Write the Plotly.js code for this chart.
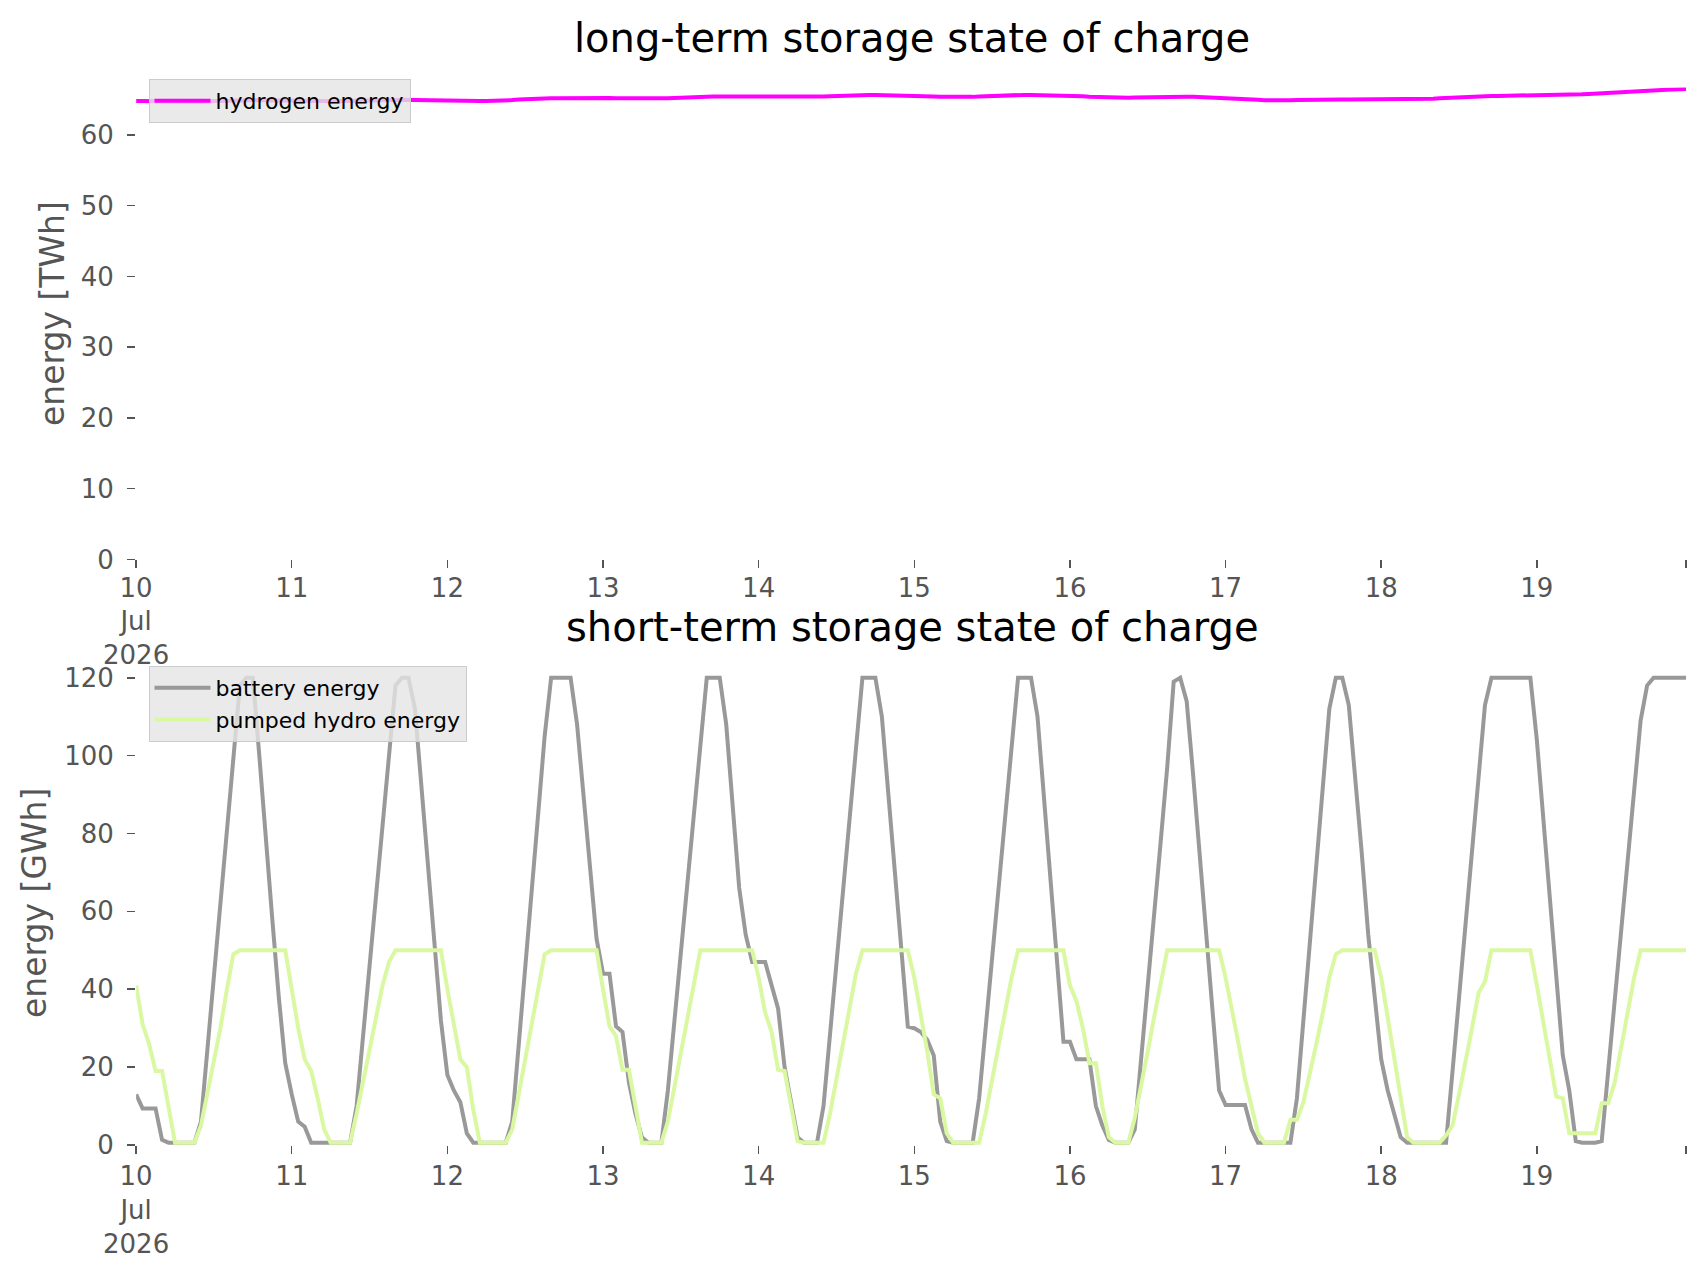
<!DOCTYPE html>
<html>
<head>
<meta charset="utf-8">
<script src="https://cdn.plot.ly/plotly-3.0.1.min.js"></script>
<style>
  html, body { margin: 0; padding: 0; background: #ffffff; }
  #storage-soc { width: 1706px; height: 1277px; }
</style>
</head>
<body>
<div id="storage-soc"></div>
<script type="text/javascript">

    /* * Data, one row per day (hourly values, 10 Jul - 19 Jul 2026) * */

    /* * long-term storage [TWh] * */
    var hydrogen_energy = [
        64.80, 64.78, 64.76, 64.74, 64.72, 64.70, 64.68, 64.66, 64.67, 64.70, 64.74, 64.78, 64.82, 64.85, 64.88, 64.90, 64.91, 64.92, 64.92, 64.90, 64.88, 64.86, 64.84, 64.82,
        64.81, 64.80, 64.79, 64.79, 64.78, 64.78, 64.78, 64.78, 64.80, 64.83, 64.86, 64.89, 64.92, 64.94, 64.96, 64.97, 64.98, 64.98, 64.97, 64.95, 64.92, 64.89, 64.86, 64.83,
        64.81, 64.80, 64.80, 64.79, 64.79, 64.79, 64.79, 64.80, 64.83, 64.88, 64.94, 65.00, 65.06, 65.11, 65.15, 65.17, 65.18, 65.20, 65.22, 65.23, 65.24, 65.25, 65.25, 65.25,
        65.25, 65.23, 65.21, 65.19, 65.17, 65.15, 65.13, 65.11, 65.12, 65.15, 65.19, 65.24, 65.29, 65.33, 65.37, 65.40, 65.42, 65.43, 65.44, 65.44, 65.43, 65.42, 65.42, 65.41,
        65.40, 65.39, 65.37, 65.36, 65.35, 65.34, 65.33, 65.33, 65.35, 65.39, 65.44, 65.49, 65.54, 65.58, 65.61, 65.63, 65.64, 65.65, 65.65, 65.64, 65.62, 65.60, 65.58, 65.57,
        65.55, 65.52, 65.48, 65.44, 65.40, 65.37, 65.35, 65.33, 65.35, 65.39, 65.44, 65.49, 65.54, 65.58, 65.61, 65.64, 65.66, 65.67, 65.67, 65.66, 65.64, 65.62, 65.60, 65.58,
        65.55, 65.51, 65.47, 65.42, 65.38, 65.34, 65.30, 65.27, 65.26, 65.28, 65.31, 65.34, 65.37, 65.39, 65.41, 65.42, 65.43, 65.42, 65.41, 65.39, 65.36, 65.33, 65.30, 65.28,
        65.25, 65.20, 65.14, 65.08, 65.02, 64.97, 64.92, 64.89, 64.87, 64.88, 64.90, 64.93, 64.96, 64.98, 65.00, 65.01, 65.02, 65.02, 65.02, 65.02, 65.02, 65.02, 65.02, 65.02,
        65.02, 65.03, 65.04, 65.05, 65.06, 65.08, 65.09, 65.10, 65.13, 65.18, 65.24, 65.30, 65.36, 65.41, 65.45, 65.48, 65.50, 65.52, 65.53, 65.54, 65.55, 65.55, 65.56, 65.56,
        65.57, 65.59, 65.61, 65.63, 65.65, 65.68, 65.71, 65.75, 65.80, 65.86, 65.92, 65.98, 66.04, 66.10, 66.16, 66.22, 66.27, 66.31, 66.35, 66.38, 66.41, 66.44, 66.47, 66.49
    ];

    /* * short-term storage [GWh] * */
    var battery_energy = [
        13, 9.4, 9.4, 9.4, 1.3, 0.6, 0.6, 0.6, 0.6, 0.6, 6, 25, 44, 63, 82, 101, 118, 120, 120, 100, 78, 58, 38, 21,
        13, 6, 4.7, 0.6, 0.6, 0.6, 0.6, 0.6, 0.6, 0.6, 10, 28, 46, 65, 83, 102, 118, 120, 120, 112, 92, 72, 52, 32,
        18, 14, 11, 3, 0.6, 0.6, 0.6, 0.6, 0.6, 0.6, 6, 25, 45, 65, 85, 105, 120, 120, 120, 120, 108, 89, 70, 53,
        44, 44, 30.5, 29, 16, 8, 2, 0.6, 0.6, 0.6, 14, 32, 50, 68, 86, 104, 120, 120, 120, 108, 87, 66, 54, 47,
        47, 47, 41, 35, 20, 11, 2, 0.6, 0.6, 0.6, 10, 28, 46, 65, 83, 102, 120, 120, 120, 110, 90, 69, 50, 30.4,
        30, 29, 27, 23, 6, 1, 0.6, 0.6, 0.6, 0.6, 12, 30, 48, 67, 85, 103, 120, 120, 120, 110, 89, 67, 45, 26.5,
        26.5, 22, 22, 22, 10, 5, 1.3, 0.6, 0.6, 0.6, 4, 22, 41, 60, 78, 97, 119, 120, 114, 95, 75, 55, 34, 14,
        10.3, 10.3, 10.3, 10.3, 4, 0.6, 0.6, 0.6, 0.6, 0.6, 0.6, 12, 32, 52, 72, 92, 112, 120, 120, 113, 95, 75, 54, 38,
        22, 14, 8, 2, 0.6, 0.6, 0.6, 0.6, 0.6, 0.6, 0.6, 19, 38, 57, 76, 95, 113, 120, 120, 120, 120, 120, 120, 120,
        104, 84, 64, 44, 23, 14, 1, 0.6, 0.6, 0.6, 1, 19, 37, 55, 73, 91, 109, 118, 120, 120, 120, 120, 120, 120
    ];
    var pumped_hydro_energy = [
        41, 31, 26, 19, 19, 10, 0.6, 0.6, 0.6, 0.6, 5, 13, 21, 30, 40, 49, 50, 50, 50, 50, 50, 50, 50, 50,
        40, 30, 22, 19, 12, 4, 0.6, 0.6, 0.6, 0.6, 8, 16, 24, 33, 41, 47, 50, 50, 50, 50, 50, 50, 50, 50,
        40, 31, 22, 20, 9, 0.6, 0.6, 0.6, 0.6, 0.6, 4, 13, 22, 31, 40, 49, 50, 50, 50, 50, 50, 50, 50, 50,
        40, 30.5, 28, 19.3, 19.3, 10, 0.6, 0.6, 0.6, 0.6, 6, 15, 24, 33, 41, 50, 50, 50, 50, 50, 50, 50, 50, 50,
        43, 34, 29, 19.3, 19, 10, 1, 0.6, 0.6, 0.6, 0.6, 8, 17, 26, 36, 44, 50, 50, 50, 50, 50, 50, 50, 50,
        43, 34, 24, 13, 12, 3, 0.6, 0.6, 0.6, 0.6, 0.6, 8, 17, 26, 34, 43, 50, 50, 50, 50, 50, 50, 50, 50,
        41, 37, 30, 21, 21, 10, 2, 0.6, 0.6, 0.6, 7, 15, 24, 33, 41, 50, 50, 50, 50, 50, 50, 50, 50, 50,
        43, 35, 26, 17, 10, 3, 0.6, 0.6, 0.6, 0.6, 6.5, 6.5, 11, 18, 26, 34, 43, 49, 50, 50, 50, 50, 50, 50,
        43, 33, 22, 12, 2, 0.6, 0.6, 0.6, 0.6, 0.6, 2.5, 5, 13, 21, 30, 39, 42, 50, 50, 50, 50, 50, 50, 50,
        41, 31, 22, 12.5, 12, 3, 3, 3, 3, 3, 10.7, 10.7, 16, 25, 34, 43, 50, 50, 50, 50, 50, 50, 50, 50
    ];

    /* * Tick labels (one per day) * */
    var day_ticks = ['2026-07-10', '2026-07-11', '2026-07-12', '2026-07-13', '2026-07-14',
                     '2026-07-15', '2026-07-16', '2026-07-17', '2026-07-18', '2026-07-19'];
    var day_labels = ['10<br>Jul<br>2026', '11', '12', '13', '14', '15', '16', '17', '18', '19'];
    var long_term_ticks = [0, 10, 20, 30, 40, 50, 60];
    var short_term_ticks = [0, 20, 40, 60, 80, 100, 120];

    /* * Utilities * */
    var getHourArray = function(start, count) {
        var arr = new Array();
        for (var i = 0; i < count; i++) {
            var dt = new Date(start + i * 3600 * 1000);
            arr.push(dt.toISOString().slice(0, 19).replace('T', ' '));
        }
        return arr;
    }

    var snapshots = getHourArray(Date.UTC(2026, 6, 10), battery_energy.length);
    var last_snapshot = snapshots[snapshots.length - 1];

    // last tick at the end of the axis has no label
    var x_tickvals = day_ticks.concat([last_snapshot]);
    var x_ticktext = day_labels.concat(['']);

    var font_family = 'DejaVu Sans, sans-serif';
    var tick_color = '#555555';

    function make_xaxis(standoff) {
        return {
            type: 'date',
            domain: [0.07978, 0.98828],
            range: [snapshots[0], last_snapshot],
            tickvals: x_tickvals,
            ticktext: x_ticktext,
            ticks: 'outside', ticklen: 8, tickwidth: 1.5, tickcolor: tick_color,
            tickfont: { family: font_family, size: 26, color: tick_color },
            ticklabelstandoff: standoff,
            showgrid: false, zeroline: false, showline: false
        };
    }

    function make_yaxis(domain, range, tickvals) {
        return {
            domain: domain,
            range: range,
            tickvals: tickvals,
            ticks: 'outside', ticklen: 8, tickwidth: 1.5, tickcolor: tick_color,
            tickfont: { family: font_family, size: 26, color: tick_color },
            ticklabelstandoff: 8,
            showgrid: false, zeroline: false, showline: false
        };
    }

    function make_legend(y) {
        return {
            x: 0.08705, y: y, xanchor: 'left', yanchor: 'top',
            itemwidth: 56,
            bgcolor: 'rgba(229,229,229,0.8)', bordercolor: '#cccccc', borderwidth: 1,
            font: { family: font_family, size: 22, color: '#000000' }
        };
    }

    var data = [{
        x: snapshots, y: hydrogen_energy,
        type: 'scatter', mode: 'lines', name: 'hydrogen energy',
        line: { color: '#ff00ff', width: 4 },
        xaxis: 'x', yaxis: 'y', legend: 'legend'
    }, {
        x: snapshots, y: battery_energy,
        type: 'scatter', mode: 'lines', name: 'battery energy',
        line: { color: '#999999', width: 4 },
        xaxis: 'x2', yaxis: 'y2', legend: 'legend2'
    }, {
        x: snapshots, y: pumped_hydro_energy,
        type: 'scatter', mode: 'lines', name: 'pumped hydro energy',
        line: { color: '#daf8a2', width: 4 },
        xaxis: 'x2', yaxis: 'y2', legend: 'legend2'
    }];

    var layout = {
        width: 1706, height: 1277,
        margin: { l: 0, r: 0, t: 0, b: 0 },
        paper_bgcolor: '#ffffff', plot_bgcolor: '#ffffff',
        font: { family: font_family },
        showlegend: true,
        xaxis: make_xaxis(-3),
        yaxis: make_yaxis([0.56195, 0.93140], [0, 66.7], long_term_ticks),
        xaxis2: Object.assign(make_xaxis(0), { anchor: 'y2' }),
        yaxis2: Object.assign(make_yaxis([0.10337, 0.48755], [0, 126], short_term_ticks), { anchor: 'x2' }),
        legend: make_legend(0.93814),
        legend2: make_legend(0.47846),
        annotations: [
            { text: 'long-term storage state of charge', xref: 'paper', yref: 'paper',
              x: 0.5346, y: 0.97024, xanchor: 'center', yanchor: 'middle', showarrow: false,
              font: { family: font_family, size: 40, color: '#000000' } },
            { text: 'short-term storage state of charge', xref: 'paper', yref: 'paper',
              x: 0.5346, y: 0.50924, xanchor: 'center', yanchor: 'middle', showarrow: false,
              font: { family: font_family, size: 40, color: '#000000' } },
            { text: 'energy [TWh]', xref: 'paper', yref: 'paper', textangle: -90,
              x: 0.0305, y: 0.7541, xanchor: 'center', yanchor: 'middle', showarrow: false,
              font: { family: font_family, size: 33, color: tick_color } },
            { text: 'energy [GWh]', xref: 'paper', yref: 'paper', textangle: -90,
              x: 0.0205, y: 0.2929, xanchor: 'center', yanchor: 'middle', showarrow: false,
              font: { family: font_family, size: 33, color: tick_color } }
        ]
    };

    Plotly.newPlot(document.getElementById('storage-soc'), data, layout, { displayModeBar: false, staticPlot: true });

</script>
</body>
</html>
